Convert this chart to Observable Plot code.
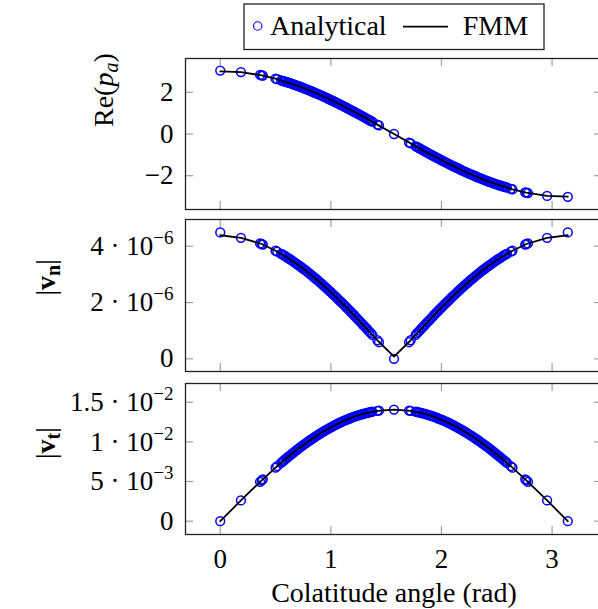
<!DOCTYPE html>
<html><head><meta charset="utf-8">
<script src="https://cdn.jsdelivr.net/npm/d3@7"></script>
<script src="https://cdn.jsdelivr.net/npm/@observablehq/plot@0.6"></script>
<style>
html,body{margin:0;padding:0;background:#fff;}
#wrap{position:relative;width:598px;height:609px;overflow:hidden;font-family:"Liberation Serif",serif;background:#fff;}
#wrap svg{max-width:none !important;}
.panel{position:absolute;left:0;}
</style></head><body><div id="wrap"></div>
<script>
// ---------- data ----------
const theta = [0, 0.187, 0.36, 0.375, 0.385, 0.50, 0.515, 0.55, 0.575, 0.60, 0.625, 0.65, 0.675, 0.70, 0.725, 0.75, 0.775, 0.80, 0.825, 0.85, 0.875, 0.90, 0.925, 0.95, 0.975, 1.00, 1.025, 1.05, 1.075, 1.10, 1.125, 1.15, 1.175, 1.20, 1.225, 1.25, 1.275, 1.30, 1.325, 1.35, 1.375, 1.42, 1.435, 1.571,
  1.707, 1.722, 1.767, 1.792, 1.817, 1.842, 1.867, 1.892, 1.917, 1.942, 1.967, 1.992, 2.017, 2.042, 2.067, 2.092, 2.117, 2.142, 2.167, 2.192, 2.217, 2.242, 2.267, 2.292, 2.317, 2.342, 2.367, 2.392, 2.417, 2.442, 2.467, 2.492, 2.517, 2.542, 2.567, 2.592, 2.627, 2.642, 2.757, 2.767, 2.782, 2.955, 3.142];

const pAnalytical = [3.04, 2.97, 2.83, 2.81, 2.80, 2.65, 2.63, 2.57, 2.53, 2.49, 2.45, 2.40, 2.36, 2.31, 2.26, 2.21, 2.16, 2.10, 2.05, 1.99, 1.94, 1.88, 1.82, 1.76, 1.69, 1.63, 1.57, 1.50, 1.44, 1.37, 1.30, 1.23, 1.16, 1.09, 1.02, 0.95, 0.88, 0.81, 0.73, 0.66, 0.59, 0.45, 0.41, 0.00,
  -0.41, -0.45, -0.59, -0.66, -0.73, -0.81, -0.88, -0.95, -1.02, -1.09, -1.16, -1.23, -1.30, -1.37, -1.44, -1.50, -1.57, -1.63, -1.69, -1.76, -1.82, -1.88, -1.94, -1.99, -2.05, -2.10, -2.16, -2.21, -2.26, -2.31, -2.36, -2.40, -2.45, -2.49, -2.53, -2.57, -2.63, -2.65, -2.80, -2.81, -2.83, -2.97, -3.01];

const vnAnalytical = [4.49e-6, 4.30e-6, 4.10e-6, 4.08e-6, 4.06e-6, 3.84e-6, 3.81e-6, 3.73e-6, 3.68e-6, 3.61e-6, 3.55e-6, 3.49e-6, 3.42e-6, 3.35e-6, 3.28e-6, 3.20e-6, 3.13e-6, 3.05e-6, 2.97e-6, 2.89e-6, 2.81e-6, 2.72e-6, 2.64e-6, 2.55e-6, 2.46e-6, 2.37e-6, 2.27e-6, 2.18e-6, 2.08e-6, 1.99e-6, 1.89e-6, 1.79e-6, 1.69e-6, 1.59e-6, 1.48e-6, 1.38e-6, 1.28e-6, 1.17e-6, 1.07e-6, 0.96e-6, 0.85e-6, 0.66e-6, 0.59e-6, 0,
  0.59e-6, 0.66e-6, 0.85e-6, 0.96e-6, 1.07e-6, 1.17e-6, 1.28e-6, 1.38e-6, 1.48e-6, 1.59e-6, 1.69e-6, 1.79e-6, 1.89e-6, 1.99e-6, 2.08e-6, 2.18e-6, 2.27e-6, 2.37e-6, 2.46e-6, 2.55e-6, 2.64e-6, 2.72e-6, 2.81e-6, 2.89e-6, 2.97e-6, 3.05e-6, 3.13e-6, 3.20e-6, 3.28e-6, 3.35e-6, 3.42e-6, 3.49e-6, 3.55e-6, 3.61e-6, 3.68e-6, 3.73e-6, 3.81e-6, 3.84e-6, 4.06e-6, 4.08e-6, 4.10e-6, 4.30e-6, 4.49e-6];

const vtAnalytical = [0, 2.62e-3, 4.96e-3, 5.15e-3, 5.28e-3, 6.75e-3, 6.93e-3, 7.35e-3, 7.65e-3, 7.94e-3, 8.23e-3, 8.52e-3, 8.79e-3, 9.06e-3, 9.33e-3, 9.59e-3, 9.84e-3, 10.09e-3, 10.33e-3, 10.57e-3, 10.80e-3, 11.02e-3, 11.24e-3, 11.44e-3, 11.65e-3, 11.84e-3, 12.03e-3, 12.20e-3, 12.38e-3, 12.54e-3, 12.70e-3, 12.84e-3, 12.98e-3, 13.11e-3, 13.24e-3, 13.35e-3, 13.46e-3, 13.56e-3, 13.65e-3, 13.73e-3, 13.80e-3, 13.91e-3, 13.94e-3, 14.07e-3,
  13.94e-3, 13.91e-3, 13.80e-3, 13.73e-3, 13.65e-3, 13.56e-3, 13.46e-3, 13.35e-3, 13.24e-3, 13.11e-3, 12.98e-3, 12.84e-3, 12.70e-3, 12.54e-3, 12.38e-3, 12.20e-3, 12.03e-3, 11.84e-3, 11.65e-3, 11.44e-3, 11.24e-3, 11.02e-3, 10.80e-3, 10.57e-3, 10.33e-3, 10.09e-3, 9.84e-3, 9.59e-3, 9.33e-3, 9.06e-3, 8.79e-3, 8.52e-3, 8.23e-3, 7.94e-3, 7.65e-3, 7.35e-3, 6.93e-3, 6.75e-3, 5.28e-3, 5.15e-3, 4.96e-3, 2.62e-3, 0];

// additional (interleaved) analytical nodes in the dense bands
const thetaMid = [0.5625, 0.5875, 0.6125, 0.6375, 0.6625, 0.6875, 0.7125, 0.7375, 0.7625, 0.7875, 0.8125, 0.8375, 0.8625, 0.8875, 0.9125, 0.9375, 0.9625, 0.9875, 1.0125, 1.0375, 1.0625, 1.0875, 1.1125, 1.1375, 1.1625, 1.1875, 1.2125, 1.2375, 1.2625, 1.2875, 1.3125, 1.3375, 1.3625,
  1.779, 1.804, 1.829, 1.854, 1.879, 1.904, 1.929, 1.954, 1.979, 2.004, 2.029, 2.054, 2.079, 2.104, 2.129, 2.154, 2.179, 2.204, 2.229, 2.254, 2.279, 2.304, 2.329, 2.354, 2.379, 2.404, 2.429, 2.454, 2.479, 2.504, 2.529, 2.554, 2.579];
const pMid = [2.55, 2.51, 2.47, 2.43, 2.38, 2.33, 2.29, 2.24, 2.18, 2.13, 2.08, 2.02, 1.96, 1.91, 1.85, 1.79, 1.73, 1.66, 1.60, 1.54, 1.47, 1.40, 1.34, 1.27, 1.20, 1.13, 1.06, 0.99, 0.92, 0.84, 0.77, 0.70, 0.62,
  -0.62, -0.70, -0.77, -0.84, -0.92, -0.99, -1.06, -1.13, -1.20, -1.27, -1.34, -1.40, -1.47, -1.54, -1.60, -1.66, -1.73, -1.79, -1.85, -1.91, -1.96, -2.02, -2.08, -2.13, -2.18, -2.24, -2.29, -2.33, -2.38, -2.43, -2.47, -2.51, -2.55];
const vnMid = [3.71e-6, 3.65e-6, 3.58e-6, 3.52e-6, 3.45e-6, 3.38e-6, 3.31e-6, 3.24e-6, 3.17e-6, 3.09e-6, 3.01e-6, 2.93e-6, 2.85e-6, 2.77e-6, 2.68e-6, 2.59e-6, 2.50e-6, 2.41e-6, 2.32e-6, 2.23e-6, 2.13e-6, 2.04e-6, 1.94e-6, 1.84e-6, 1.74e-6, 1.64e-6, 1.54e-6, 1.43e-6, 1.33e-6, 1.22e-6, 1.12e-6, 1.01e-6, 0.91e-6,
  0.91e-6, 1.01e-6, 1.12e-6, 1.22e-6, 1.33e-6, 1.43e-6, 1.54e-6, 1.64e-6, 1.74e-6, 1.84e-6, 1.94e-6, 2.04e-6, 2.13e-6, 2.23e-6, 2.32e-6, 2.41e-6, 2.50e-6, 2.59e-6, 2.68e-6, 2.77e-6, 2.85e-6, 2.93e-6, 3.01e-6, 3.09e-6, 3.17e-6, 3.24e-6, 3.31e-6, 3.38e-6, 3.45e-6, 3.52e-6, 3.58e-6, 3.65e-6, 3.71e-6];
const vtMid = [7.50e-3, 7.80e-3, 8.09e-3, 8.37e-3, 8.65e-3, 8.93e-3, 9.20e-3, 9.46e-3, 9.72e-3, 9.97e-3, 10.21e-3, 10.45e-3, 10.68e-3, 10.91e-3, 11.13e-3, 11.34e-3, 11.55e-3, 11.74e-3, 11.93e-3, 12.12e-3, 12.29e-3, 12.46e-3, 12.62e-3, 12.77e-3, 12.91e-3, 13.05e-3, 13.18e-3, 13.30e-3, 13.41e-3, 13.51e-3, 13.60e-3, 13.69e-3, 13.77e-3,
  13.77e-3, 13.69e-3, 13.60e-3, 13.51e-3, 13.41e-3, 13.30e-3, 13.18e-3, 13.05e-3, 12.91e-3, 12.77e-3, 12.62e-3, 12.46e-3, 12.29e-3, 12.12e-3, 11.93e-3, 11.74e-3, 11.55e-3, 11.34e-3, 11.13e-3, 10.91e-3, 10.68e-3, 10.45e-3, 10.21e-3, 9.97e-3, 9.72e-3, 9.46e-3, 9.20e-3, 8.93e-3, 8.65e-3, 8.37e-3, 8.09e-3, 7.80e-3, 7.50e-3];

const thetaFMM = [0, 0.187, 0.375, 0.50, 0.60, 0.70, 0.80, 0.90, 1.00, 1.10, 1.20, 1.30, 1.42, 1.571, 1.722, 1.842, 1.942, 2.042, 2.142, 2.242, 2.342, 2.442, 2.542, 2.642, 2.767, 2.955, 3.142];
const pFMM = [3.00, 2.97, 2.81, 2.65, 2.49, 2.31, 2.10, 1.88, 1.63, 1.37, 1.09, 0.81, 0.45, 0.00, -0.45, -0.81, -1.09, -1.37, -1.63, -1.88, -2.10, -2.31, -2.49, -2.65, -2.81, -2.97, -3.00];
const vnFMM = [4.39e-6, 4.30e-6, 4.08e-6, 3.84e-6, 3.61e-6, 3.35e-6, 3.05e-6, 2.72e-6, 2.37e-6, 1.99e-6, 1.59e-6, 1.17e-6, 0.66e-6, 0.08e-6, 0.66e-6, 1.17e-6, 1.59e-6, 1.99e-6, 2.37e-6, 2.72e-6, 3.05e-6, 3.35e-6, 3.61e-6, 3.84e-6, 4.08e-6, 4.30e-6, 4.39e-6];
const vtFMM = [0, 2.62e-3, 5.15e-3, 6.75e-3, 7.94e-3, 9.06e-3, 10.09e-3, 11.02e-3, 11.84e-3, 12.54e-3, 13.11e-3, 13.56e-3, 13.91e-3, 14.07e-3, 13.91e-3, 13.56e-3, 13.11e-3, 12.54e-3, 11.84e-3, 11.02e-3, 10.09e-3, 9.06e-3, 7.94e-3, 6.75e-3, 5.15e-3, 2.62e-3, 0];

const xTicks = [0, 1, 2, 3];
const xTickLabels = ["0", "1", "2", "3"];
const pTicks = [-2, 0, 2];
const pTickLabels = ["\u22122", "0", "2"];
const vnTicks = [0, 2e-6, 4e-6];
const vnTickLabels = ["0", "2 \u00b7 10^\u22126", "4 \u00b7 10^\u22126"];
const vtTicks = [0, 5e-3, 1e-2, 1.5e-2];
const vtTickLabels = ["0", "5 \u00b7 10^\u22123", "1 \u00b7 10^\u22122", "1.5 \u00b7 10^\u22122"];
const seriesNames = ["Analytical", "FMM"];
const xLabel = "Colatitude angle (rad)";

// ---------- layout ----------
const FONT = '"Liberation Serif", "Times New Roman", serif';
const W = 606, ML = 185, MR = 4, MT = 2;
const xDomain = [-0.3142, 3.4558];
const tickLen = 8;
const tickColor = "#a0a0a0";

function rows(xs, ys) { return xs.map((t, i) => ({t, v: ys[i]})); }

function makePanel({ya, ym, yf, yDomain, yTicks, yLabels, top, innerH, mb, label, labelDx, labelDy, xAxis}) {
  const H = MT + innerH + mb;
  const innerW = W - ML - MR;
  const dots = rows(theta, ya).concat(rows(thetaMid, ym));
  const marks = [
    Plot.dot(dots, {x: "t", y: "v", r: 4.4, stroke: "#0000ff", strokeWidth: 1.5, fill: "none"}),
    Plot.line(rows(thetaFMM, yf), {x: "t", y: "v", stroke: "#000", strokeWidth: 1.8}),
    Plot.ruleX(xTicks, {x: d => d, insetTop: innerH - tickLen, stroke: tickColor, strokeWidth: 1.2}),
    Plot.ruleX(xTicks, {x: d => d, insetBottom: innerH - tickLen, stroke: tickColor, strokeWidth: 1.2}),
    Plot.ruleY(yTicks, {y: d => d, insetRight: innerW - tickLen, stroke: tickColor, strokeWidth: 1.2}),
    Plot.ruleY(yTicks, {y: d => d, insetLeft: innerW - tickLen, stroke: tickColor, strokeWidth: 1.2}),
    Plot.axisY({ticks: yTicks, tickSize: 0, tickPadding: 12, fontSize: 27, label: null,
      tickFormat: d => yLabels[yTicks.indexOf(d)]}),
    Plot.frame({stroke: "#222", strokeWidth: 1.3}),
    Plot.text([label], {frameAnchor: "left", text: d => d, rotate: -90, dx: labelDx, dy: labelDy, fontSize: 28})
  ];
  if (xAxis) {
    marks.push(Plot.axisX({ticks: xTicks, tickSize: 0, tickPadding: 14, fontSize: 27, label: null,
      tickFormat: d => xTickLabels[xTicks.indexOf(d)]}));
    marks.push(Plot.text([xLabel], {frameAnchor: "bottom", text: d => d, dy: 67, fontSize: 28}));
  }
  const svg = Plot.plot({
    width: W, height: H,
    marginLeft: ML, marginRight: MR, marginTop: MT, marginBottom: mb,
    style: {fontFamily: FONT, fontSize: "27px", maxWidth: "none", overflow: "visible", background: "transparent"},
    x: {domain: xDomain, axis: xAxis ? undefined : null},
    y: {domain: yDomain},
    marks
  });
  svg.classList.add("panel");
  svg.style.top = (top - MT) + "px";
  richText(svg);
  return svg;
}

function richText(svg) {
  d3.select(svg).selectAll("text").each(function () {
    const s = this.textContent;
    const el = d3.select(this);
    if (s.includes("^")) {
      const [base, exp] = s.split("^");
      el.text(null);
      el.append("tspan").text(base);
      el.append("tspan").attr("dy", "-11").attr("font-size", "19").text(exp);
    } else if (s === "Re(pa)") {
      el.text(null);
      el.append("tspan").text("Re(");
      el.append("tspan").attr("font-style", "italic").text("p");
      el.append("tspan").attr("font-style", "italic").attr("font-size", "20").attr("dy", "5").text("a");
      el.append("tspan").attr("dy", "-5").text(")");
    } else if (s === "|vn|" || s === "|vt|") {
      const sub = s[2];
      el.text(null);
      el.append("tspan").text("|");
      el.append("tspan").attr("font-weight", "bold").text("v");
      el.append("tspan").attr("font-weight", "bold").attr("font-size", "20").attr("dy", "5").text(sub);
      el.append("tspan").attr("dy", "-5").text("|");
    }
  });
}

const wrap = document.getElementById("wrap");

wrap.appendChild(makePanel({ya: pAnalytical, ym: pMid, yf: pFMM, yDomain: [-3.62, 3.62], yTicks: pTicks, yLabels: pTickLabels,
  top: 58, innerH: 151, mb: 2, label: "Re(pa)", labelDx: -81, labelDy: -7, xAxis: false}));
wrap.appendChild(makePanel({ya: vnAnalytical, ym: vnMid, yf: vnFMM, yDomain: [-0.45e-6, 4.95e-6], yTicks: vnTicks, yLabels: vnTickLabels,
  top: 219, innerH: 152, mb: 2, label: "|vn|", labelDx: -139, labelDy: 0, xAxis: false}));
wrap.appendChild(makePanel({ya: vtAnalytical, ym: vtMid, yf: vtFMM, yDomain: [-1.68e-3, 17.36e-3], yTicks: vtTicks, yLabels: vtTickLabels,
  top: 383, innerH: 151, mb: 75, label: "|vt|", labelDx: -139, labelDy: 0, xAxis: true}));

// ---------- legend ----------
const leg = d3.select(wrap).append("svg")
  .attr("width", 302).attr("height", 48)
  .style("position", "absolute").style("left", "243px").style("top", "3px")
  .style("font-family", FONT);
leg.append("rect").attr("x", 1).attr("y", 1).attr("width", 300).attr("height", 45.5)
  .attr("fill", "#fff").attr("stroke", "#222").attr("stroke-width", 1.3);
leg.append("circle").attr("cx", 14.7).attr("cy", 23).attr("r", 4.2)
  .attr("fill", "none").attr("stroke", "#0000ff").attr("stroke-width", 1.1);
leg.append("text").attr("x", 27).attr("y", 32).attr("font-size", 28).text(seriesNames[0]);
leg.append("line").attr("x1", 160).attr("x2", 205).attr("y1", 23.7).attr("y2", 23.7)
  .attr("stroke", "#000").attr("stroke-width", 1.8);
leg.append("text").attr("x", 219.7).attr("y", 32).attr("font-size", 28).text(seriesNames[1]);
</script>
</body></html>
